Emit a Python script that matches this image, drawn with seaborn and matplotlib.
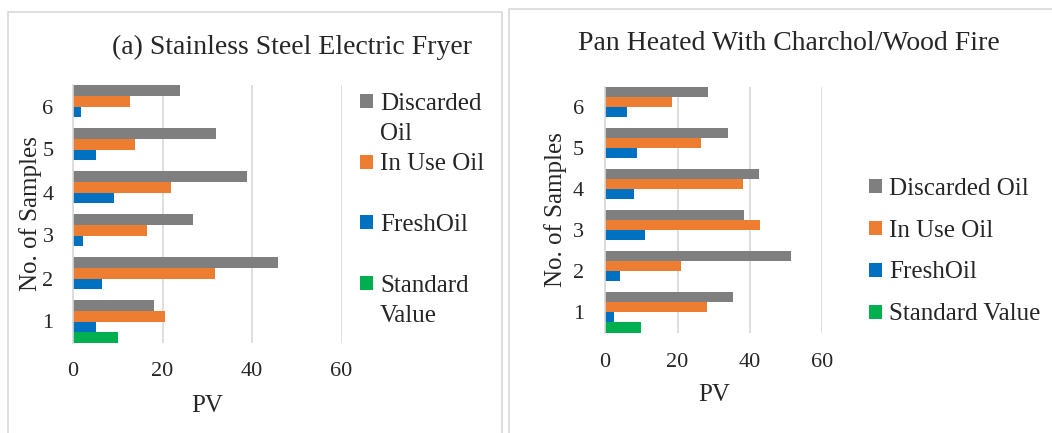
import numpy as np
import pandas as pd
import matplotlib
matplotlib.use("Agg")
import matplotlib.pyplot as plt
import seaborn as sns
from matplotlib.patches import Patch, Rectangle

# samples listed top to bottom, as they show on the chart
samples = ['6', '5', '4', '3', '2', '1']
series = ['Discarded Oil', 'In Use Oil', 'FreshOil', 'Standard Value']
colors = ['#7F7F7F', '#ED7D31', '#0070C0', '#00B050']

# (a) stainless steel electric fryer, PV for samples 6..1
fryer_discarded = [24.0, 31.9, 38.8, 26.9, 45.9, 18.2]
fryer_inuse = [12.8, 13.8, 21.8, 16.5, 31.7, 20.6]
fryer_fresh = [1.8, 5.2, 9.2, 2.3, 6.5, 5.1]
fryer_standard = [0, 0, 0, 0, 0, 10]

# pan heated with charcoal / wood fire, PV for samples 6..1
pan_discarded = [28.3, 34.0, 42.6, 38.4, 51.2, 35.3]
pan_inuse = [18.4, 26.4, 38.0, 42.7, 20.9, 28.1]
pan_fresh = [6.0, 8.7, 8.1, 10.9, 4.0, 2.4]
pan_standard = [0, 0, 0, 0, 0, 10]

xticks = [0, 20, 40, 60]


def to_long(discarded, inuse, fresh, standard):
    rows = []
    for name, vals in zip(series, [discarded, inuse, fresh, standard]):
        for smp, v in zip(samples, vals):
            rows.append({'Sample': smp, 'Series': name, 'PV': v})
    return pd.DataFrame(rows)


sns.set_style('white')
plt.rcParams['font.family'] = ['Liberation Serif', 'DejaVu Serif']

W, H = 1052, 433
fig = plt.figure(figsize=(W / 100, H / 100), dpi=100)


def px(x0, y0, x1, y1):
    # pixel box -> figure fraction rect
    return [x0 / W, 1 - y1 / H, (x1 - x0) / W, (y1 - y0) / H]


# panel frames
fig.patches.append(Rectangle((8 / W, -0.01), (501.5 - 8) / W, 1 - 12 / H + 0.01,
                             transform=fig.transFigure, fill=False,
                             edgecolor='#D9D9D9', lw=1.2))
fig.patches.append(Rectangle((509 / W, -0.01), 1.0, 1 - 8.5 / H + 0.01,
                             transform=fig.transFigure, fill=False,
                             edgecolor='#D9D9D9', lw=1.2))


def draw(ax, df, tickpad, ytickpad, xlabelpad, ylabelpad):
    sns.barplot(data=df, x='PV', y='Sample', hue='Series', order=samples,
                hue_order=series, palette=colors, orient='h', width=1,
                dodge=True, saturation=1, errorbar=None, linewidth=0,
                legend=False, ax=ax)
    ax.set_xlim(0, 60)
    ax.set_xticks(xticks)
    ax.set_xticklabels([str(t) for t in xticks], fontsize=16)
    ax.tick_params(axis='x', length=0, pad=tickpad)
    ax.tick_params(axis='y', length=0, pad=ytickpad, labelsize=16)
    ax.grid(axis='x', color='#D9D9D9', lw=1.2)
    ax.set_axisbelow(True)
    for s in ['top', 'right', 'bottom']:
        ax.spines[s].set_visible(False)
    ax.spines['left'].set_color('#D9D9D9')
    ax.spines['left'].set_linewidth(1.2)
    ax.set_xlabel('PV', fontsize=18, labelpad=xlabelpad)
    ax.set_ylabel('No. of Samples', fontsize=18, labelpad=ylabelpad)


ax1 = fig.add_axes(px(73, 85, 341.5, 343))
draw(ax1, to_long(fryer_discarded, fryer_inuse, fryer_fresh, fryer_standard),
     13.5, 14, 10, 0)

ax2 = fig.add_axes(px(605, 86.5, 822.5, 332.5))
draw(ax2, to_long(pan_discarded, pan_inuse, pan_fresh, pan_standard),
     14.5, 15, 9, 4)

fig.text(292 / W, 1 - 47 / H, '(a) Stainless Steel Electric Fryer',
         ha='center', va='center', fontsize=20)
fig.text(789 / W, 1 - 43 / H, 'Pan Heated With Charchol/Wood Fire',
         ha='center', va='center', fontsize=20)

blank = Patch(facecolor='none', edgecolor='none')
h = [Patch(facecolor=c, edgecolor='none') for c in colors]

# left legend: long names wrap onto a second row like the original
fig.legend([h[0], blank, h[1], blank, h[2], blank, h[3], blank],
           ['Discarded', 'Oil', 'In Use Oil', ' ', 'FreshOil', ' ', 'Standard', 'Value'],
           loc='upper left', bbox_to_anchor=(360 / W, 1 - 93 / H),
           frameon=False, fontsize=18, borderpad=0, borderaxespad=0,
           handlelength=0.5, handleheight=0.5, handletextpad=0.3,
           labelspacing=0.33)

fig.legend(h, series,
           loc='upper left', bbox_to_anchor=(869 / W, 1 - 177.5 / H),
           frameon=False, fontsize=18, borderpad=0, borderaxespad=0,
           handlelength=0.5, handleheight=0.5, handletextpad=0.3,
           labelspacing=0.8)

fig.savefig('out.png', dpi=100)
